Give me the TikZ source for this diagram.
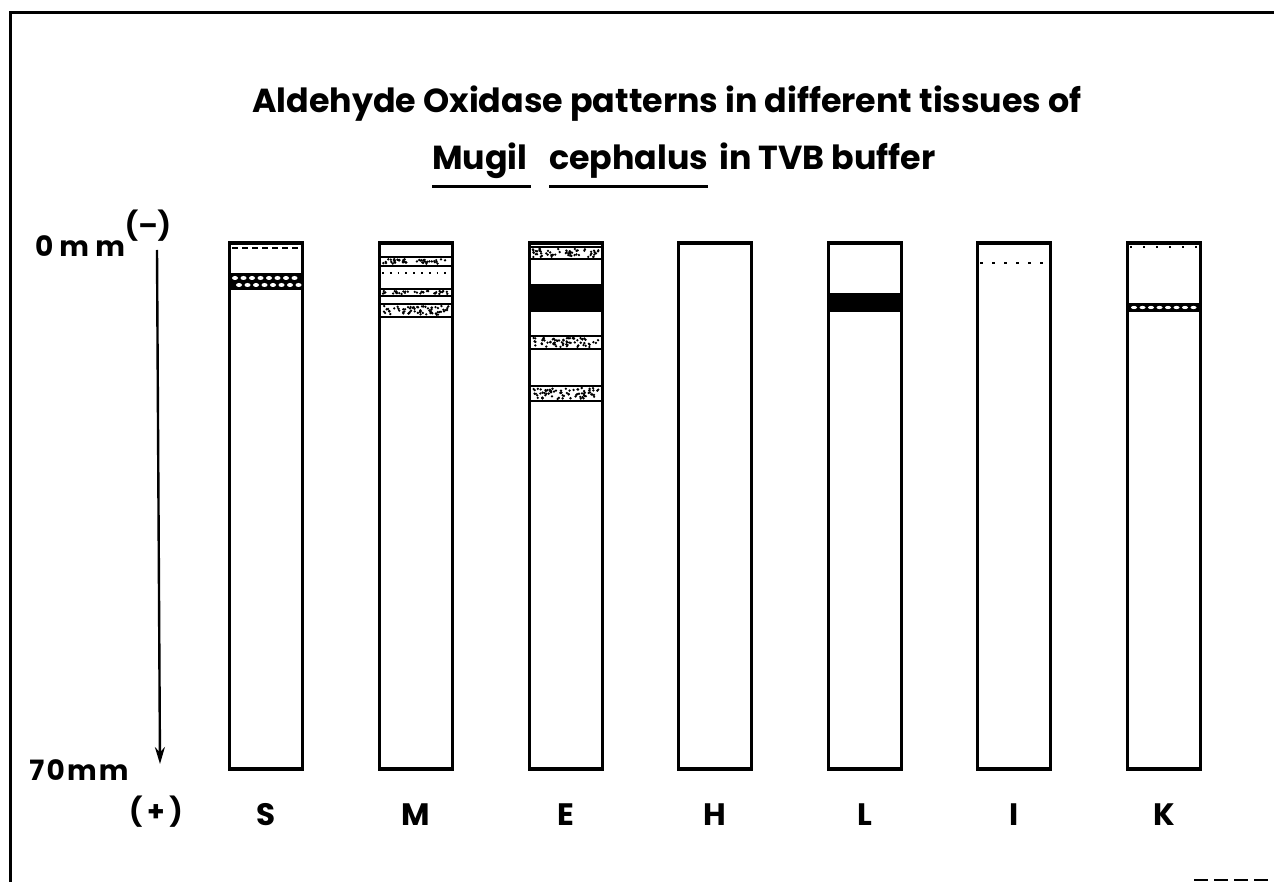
\documentclass[tikz,border=0pt]{standalone}
\usepackage{fontspec}
\setmainfont{Poppins}
\usetikzlibrary{arrows.meta}

% band helpers: #1 = strip centre x, #2/#3 = top/bottom of band
\newcommand{\stipband}[3]{%
  \draw[bandline] (#1-36,#2) -- (#1+36,#2) (#1-36,#3) -- (#1+36,#3);
  \pgfmathtruncatemacro\nd{5*(#3-#2)}%
  \foreach \k in {1,...,\nd}{%
    \pgfmathsetmacro\px{#1-33+66*rnd}%
    \pgfmathsetmacro\py{#2+2+(#3-#2-4)*rnd}%
    \fill (\px,\py) circle[radius=1.3pt];
  }%
}
\newcommand{\solidband}[3]{\fill (#1-36,#2) rectangle (#1+36,#3);}
\newcommand{\hatchband}[3]{%
  \fill (#1-36,#2) rectangle (#1+36,#3);
  \pgfmathsetmacro\hh{#3-#2}%
  \pgfmathsetmacro\hm{(#2+#3)/2}%
  \ifdim\hh pt>12pt
    \foreach \i in {0,...,7}{%
      \fill[white] ({#1-31+8.5*\i},{#2+5}) ellipse[x radius=3pt,y radius=2pt];
      \fill[white] ({#1-27+8.5*\i},{#3-5}) ellipse[x radius=3pt,y radius=2pt];
    }%
  \else
    \foreach \i in {0,...,7}{%
      \fill[white] ({#1-30+8.5*\i},\hm) ellipse[x radius=3pt,y radius=1.6pt];
    }%
  \fi
}
\newcommand{\dotrow}[3]{% centre x, y, dash pattern
  \draw[line width=1.8pt,dash pattern=#3] (#1-34,#2) -- (#1+34,#2);
}

\begin{document}
\begin{tikzpicture}[x=1pt,y=-1pt,
  every node/.style={inner sep=0pt,outer sep=0pt},
  frameline/.style={line width=3pt,line cap=round},
  strip/.style={draw,line width=3.2pt,minimum width=73pt,minimum height=526pt},
  bandline/.style={line width=2pt},
  ttl/.style={font=\fontsize{33.3}{38}\selectfont\bfseries},
  lane/.style={font=\fontsize{31}{36}\selectfont\bfseries,anchor=base},
  axis/.style={font=\fontsize{28}{34}\selectfont\bfseries},
  uline/.style={line width=3pt},
  axisarrow/.style={line width=2.4pt,-{Stealth[length=17pt,width=10pt]}}]
\pgfmathsetseed{11}
\useasboundingbox (0,0) rectangle (1274,882);

% frame (left and top edges, torn bottom corner)
\draw[frameline] (10,882) -- (10,13) -- (1274,13);
\draw[line width=2pt,dash pattern=on 14pt off 6pt] (1194,880) -- (1274,880);

% title
\node[ttl] (t1) at (667,104) {Aldehyde Oxidase patterns in different tissues of};
\node[ttl,anchor=base west] (mugil) at (432,170) {Mugil};
\node[ttl,anchor=base west] (ceph) at ([xshift=22pt]mugil.base east) {cephalus};
\node[ttl,anchor=base west] (rest) at ([xshift=11pt]ceph.base east) {in TVB buffer};
\draw[uline] ([yshift=-17pt]mugil.base west) -- ([yshift=-17pt,xshift=4pt]mugil.base east);
\draw[uline] ([yshift=-17pt]ceph.base west) -- ([yshift=-17pt]ceph.base east);

% axis
\node[axis] (top) at (80,246) {\addfontfeature{LetterSpace=22}0mm};
\node[axis] (neg) at (148,226) {(--)};
\node[axis] (bot) at (79,770) {\addfontfeature{LetterSpace=8}70mm};
\node[axis] (pos) at (156,812) {(\,+\,)};
\coordinate (a0) at (157,250);
\coordinate (a1) at (160,764);
\draw[axisarrow] (a0) -- (a1);

% strips
\foreach \n/\x in {S/266,M/416,E/566,H/715,L/865,I/1014,K/1164}{
  \node[strip] (\n) at (\x,506) {};
  \node[lane] (lab\n) at (\x,825) {\n};
}

% S
\draw[line width=2.6pt,dash pattern=on 6pt off 4pt] (266-34,248) -- (266+34,248);
\hatchband{266}{273}{290}
% M
\stipband{416}{257}{266}
\dotrow{416}{273}{on 1.8pt off 6pt}
\stipband{416}{289}{296}
\stipband{416}{304}{317}
% E
\stipband{566}{247}{259}
\solidband{566}{284}{312}
\stipband{566}{336}{349}
\stipband{566}{386}{401}
% L
\solidband{865}{293}{312}
% I
\dotrow{1014}{263}{on 3pt off 9pt}
% K
\dotrow{1164}{247}{on 2pt off 11pt}
\hatchband{1164}{303}{312}
\end{tikzpicture}
\end{document}
